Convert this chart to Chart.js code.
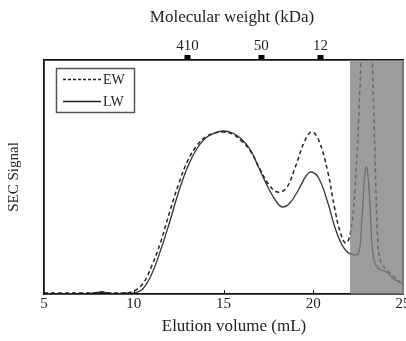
<!DOCTYPE html>
<html>
<head>
<meta charset="utf-8">
<script src="https://cdn.jsdelivr.net/npm/chart.js@4.4.1/dist/chart.umd.min.js"></script>
<style>
  html, body { margin: 0; padding: 0; background: #fff; }
  #wrap { width: 406px; height: 341px; }
</style>
</head>
<body>
<div id="wrap"><canvas id="secChart" width="406" height="341"></canvas></div>
<script>
// =====================
// Data
// =====================
const ewVolume = [5, 6, 7, 7.8, 8.2, 8.6, 9, 9.5, 10, 10.5, 11, 11.5, 12, 12.5, 13, 13.5, 14, 14.5, 15, 15.5, 16, 16.5, 17, 17.5, 18, 18.5, 19, 19.5, 19.9, 20.3, 20.8, 21.2, 21.5, 21.8, 22.05, 22.33, 22.6, 22.75, 23.0, 23.2, 23.44, 23.6, 23.77, 24.1, 24.4, 24.94];
const ewSignal = [1, 1, 1, 1, 2, 1, 1, 1, 3, 10, 28, 52, 82, 110, 133, 148, 157, 161, 162, 160, 153, 143, 126, 110, 102, 106, 127, 152, 162, 154, 123, 85, 62, 51, 59, 106, 206, 280, 330, 280, 139, 52, 32, 24, 19, 10];

const lwVolume = [5, 6, 7, 7.8, 8.2, 8.6, 9, 9.5, 10, 10.5, 11, 11.5, 12, 12.5, 13, 13.5, 14, 14.5, 15, 15.5, 16, 16.5, 17, 17.5, 18, 18.3, 18.7, 19.2, 19.6, 19.9, 20.3, 20.8, 21.2, 21.6, 21.9, 22.1, 22.5, 22.7, 22.85, 22.95, 23.05, 23.16, 23.33, 23.6, 24.16, 24.5, 25];
const lwSignal = [0, 0, 0, 1, 2, 1, 0, 1, 1, 5, 20, 44, 72, 102, 127, 145, 156, 161, 163, 161, 155, 144, 125, 106, 91, 87, 91, 105, 118, 122, 116, 92, 67, 49, 42, 40, 40, 72, 115, 127, 118, 89, 39, 26, 21, 15, 10];

const mwPositions = [13.0, 17.1, 20.4];
const mwLabels = ["410", "50", "12"];
const volumeTicks = [5, 10, 15, 20, 25];

const shadeStart = 22.05;
const signalMax = 234;

const serif = "'Liberation Serif', 'DejaVu Serif', serif";

function toPoints(xs, ys) {
    return xs.map((x, i) => ({ x, y: ys[i] }));
}

// =====================
// Extras: shaded band, inward ticks, legend box, axis titles
// =====================
const extrasPlugin = {
    id: "extras",
    afterDatasetsDraw(chart) {
        const { ctx, chartArea: a, scales } = chart;
        const xs = scales.x;
        ctx.save();
        // plot frame
        ctx.strokeStyle = "#111";
        ctx.lineWidth = 1.3;
        ctx.strokeRect(a.left, a.top, a.right - a.left, a.bottom - a.top);
        // inward ticks on bottom axis
        ctx.lineWidth = 1;
        volumeTicks.slice(1, -1).forEach(v => {
            const px = Math.round(xs.getPixelForValue(v)) + 0.5;
            ctx.beginPath();
            ctx.moveTo(px, a.bottom);
            ctx.lineTo(px, a.bottom - 4);
            ctx.stroke();
        });
        // gray shaded region
        const sx = xs.getPixelForValue(shadeStart);
        ctx.fillStyle = "rgba(128,128,128,0.78)";
        ctx.fillRect(sx, a.top, a.right - sx + 1, a.bottom - a.top);
        // legend
        ctx.strokeStyle = "#555";
        ctx.lineWidth = 1.5;
        ctx.strokeRect(56.5, 68.5, 78, 44);
        ctx.strokeStyle = "#222";
        ctx.lineWidth = 1.3;
        ctx.setLineDash([3, 2]);
        ctx.beginPath();
        ctx.moveTo(63, 79.5);
        ctx.lineTo(101, 79.5);
        ctx.stroke();
        ctx.setLineDash([]);
        ctx.beginPath();
        ctx.moveTo(63, 101.5);
        ctx.lineTo(101, 101.5);
        ctx.stroke();
        ctx.fillStyle = "#222";
        ctx.font = "14px " + serif;
        ctx.textBaseline = "middle";
        ctx.fillText("EW", 103, 80);
        ctx.fillText("LW", 103, 102);
        // axis titles (sit a little right of the plot centre in the original)
        ctx.font = "17px " + serif;
        ctx.textAlign = "center";
        ctx.fillText("Molecular weight (kDa)", 232, 18);
        ctx.fillText("Elution volume (mL)", 234, 327);
        ctx.restore();
    }
};

// =====================
// Chart
// =====================
const ctx = document.getElementById("secChart").getContext("2d");
new Chart(ctx, {
    type: "line",
    data: {
        datasets: [
            {
                label: "EW",
                data: toPoints(ewVolume, ewSignal),
                borderColor: "#222",
                borderWidth: 1.5,
                borderDash: [4, 3],
                pointRadius: 0,
                tension: 0.4,
                fill: false
            },
            {
                label: "LW",
                data: toPoints(lwVolume, lwSignal),
                borderColor: "#333",
                borderWidth: 1.3,
                pointRadius: 0,
                tension: 0.4,
                fill: false
            }
        ]
    },
    options: {
        responsive: false,
        animation: false,
        layout: { padding: { right: 3, left: 0, top: 0, bottom: 0 } },
        plugins: { legend: { display: false }, tooltip: { enabled: false } },
        scales: {
            x: {
                type: "linear",
                position: "bottom",
                min: 5,
                max: 25,
                afterBuildTicks: s => { s.ticks = volumeTicks.map(v => ({ value: v })); },
                ticks: { color: "#222", font: { family: serif, size: 15 }, padding: 1, maxRotation: 0 },
                grid: { display: false, drawTicks: false },
                border: { display: true, color: "#111", width: 1.3 },
                afterFit: s => { s.height = 47; s.paddingLeft = 0; s.paddingRight = 0; }
            },
            x2: {
                type: "linear",
                position: "top",
                min: 5,
                max: 25,
                afterBuildTicks: s => { s.ticks = mwPositions.map(v => ({ value: v })); },
                ticks: {
                    color: "#222",
                    font: { family: serif, size: 15 },
                    padding: 0,
                    maxRotation: 0,
                    callback: v => mwLabels[mwPositions.indexOf(v)]
                },
                grid: { drawOnChartArea: false, drawTicks: true, tickLength: 5, tickWidth: 6, tickColor: "#000" },
                border: { display: true, color: "#111", width: 1.3 },
                afterFit: s => { s.height = 60; s.paddingLeft = 0; s.paddingRight = 0; }
            },
            y: {
                min: 0,
                max: signalMax,
                ticks: { display: false },
                grid: { display: false },
                border: { display: true, color: "#111", width: 1.3 },
                title: { display: true, text: "SEC Signal", color: "#222", font: { family: serif, size: 15 }, padding: { top: 5, bottom: 0 } },
                afterFit: s => { s.width = 44; s.paddingTop = 0; s.paddingBottom = 0; }
            }
        }
    },
    plugins: [extrasPlugin]
});
</script>
</body>
</html>
